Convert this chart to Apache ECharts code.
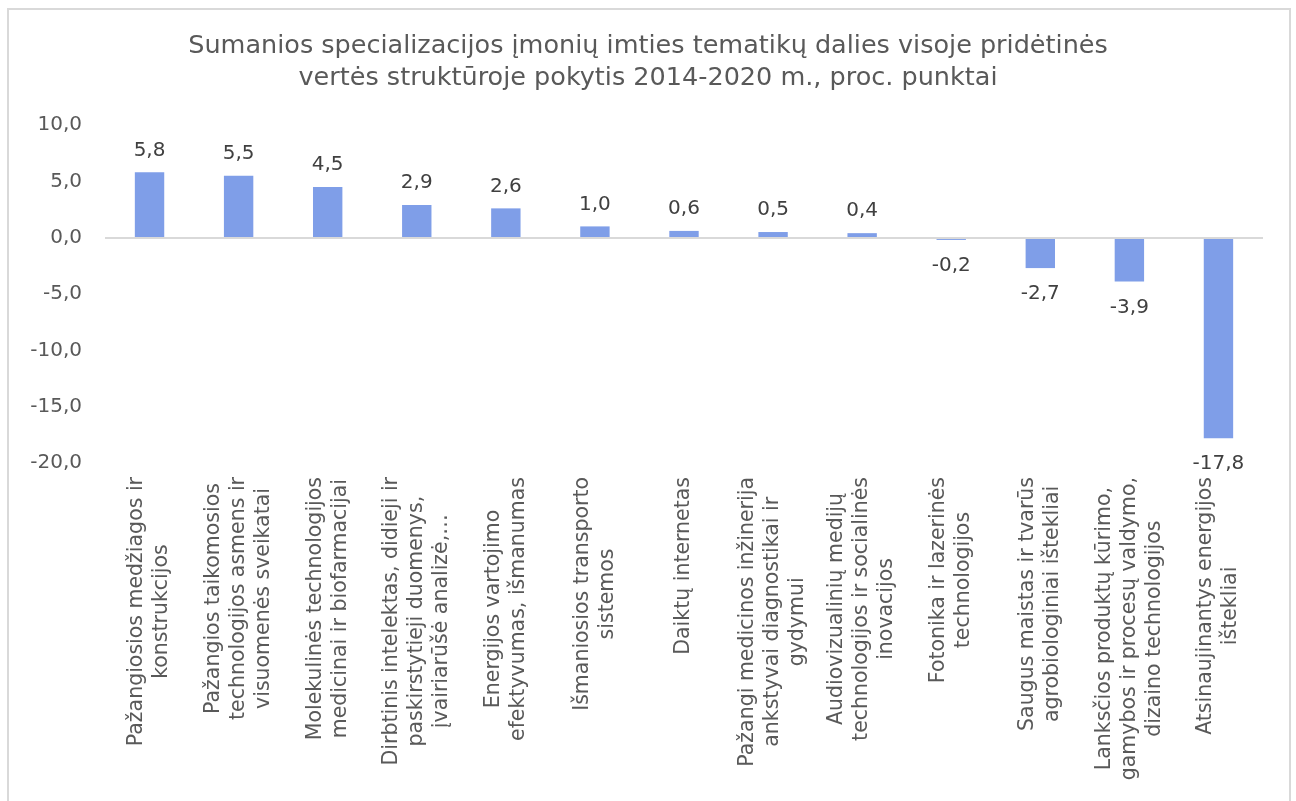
<!DOCTYPE html>
<html>
<head>
<meta charset="utf-8">
<script src="https://cdn.jsdelivr.net/npm/echarts@6/dist/echarts.min.js"></script>
<style>
html,body{margin:0;padding:0;background:#fff;}
#frame{position:absolute;left:7px;top:8px;width:1284px;height:820px;border:2px solid #d9d9d9;box-sizing:border-box;}
#chart{position:absolute;left:0;top:0;width:1296px;height:801px;}
</style>
</head>
<body>
<div id="frame"></div>
<div id="chart"></div>
<script>
const titleText = "Sumanios specializacijos įmonių imties tematikų dalies visoje pridėtinės\nvertės struktūroje pokytis 2014-2020 m., proc. punktai";
const categories = [
  "Pažangiosios medžiagos ir\nkonstrukcijos",
  "Pažangios taikomosios\ntechnologijos asmens ir\nvisuomenės sveikatai",
  "Molekulinės technologijos\nmedicinai ir biofarmacijai",
  "Dirbtinis intelektas, didieji ir\npaskirstytieji duomenys,\nįvairiarūšė analizė,…",
  "Energijos vartojimo\nefektyvumas, išmanumas",
  "Išmaniosios transporto\nsistemos",
  "Daiktų internetas",
  "Pažangi medicinos inžinerija\nankstyvai diagnostikai ir\ngydymui",
  "Audiovizualinių medijų\ntechnologijos ir socialinės\ninovacijos",
  "Fotonika ir lazerinės\ntechnologijos",
  "Saugus maistas ir tvarūs\nagrobiologiniai ištekliai",
  "Lanksčios produktų kūrimo,\ngamybos ir procesų valdymo,\ndizaino technologijos",
  "Atsinaujinantys energijos\ništekliai"
];
const values = [5.8, 5.5, 4.5, 2.9, 2.6, 1.0, 0.6, 0.5, 0.4, -0.2, -2.7, -3.9, -17.8];
const yMin = -20, yMax = 10, yStep = 5;

const fmt = v => Number(v).toFixed(1).replace('.', ',');
const FONT = '"DejaVu Sans", Verdana, sans-serif';

const chart = echarts.init(document.getElementById('chart'), null, {renderer: 'canvas'});
chart.setOption({
  animation: false,
  backgroundColor: 'transparent',
  title: {
    text: titleText,
    left: 'center',
    top: 25,
    textStyle: {fontFamily: FONT, fontSize: 25.5, fontWeight: 'normal', color: '#595959', lineHeight: 32}
  },
  grid: {left: 105, right: 33, top: 125, bottom: 338, containLabel: false},
  xAxis: {
    type: 'category',
    data: categories,
    axisLine: {show: false},
    axisTick: {show: false},
    axisLabel: {
      rotate: 90,
      interval: 0,
      margin: 14,
      color: '#595959',
      fontFamily: FONT,
      fontSize: 20.5,
      lineHeight: 25,
      formatter: v => v.split('\n').map(l => '{c|' + l + '}').join('\n'),
      rich: {c: {align: 'center', fontFamily: FONT, fontSize: 20.5, lineHeight: 25, color: '#595959'}}
    }
  },
  yAxis: {
    type: 'value',
    min: yMin, max: yMax, interval: yStep,
    axisLine: {show: false},
    axisTick: {show: false},
    splitLine: {show: false},
    axisLabel: {margin: 23, color: '#595959', fontFamily: FONT, fontSize: 20, formatter: fmt}
  },
  series: [{
    type: 'bar',
    barWidth: '33%',
    itemStyle: {color: '#7f9ee8'},
    data: values.map(v => ({
      value: v,
      label: {position: v >= 0 ? 'top' : 'bottom', distance: v >= 0 ? 12 : 16}
    })),
    label: {show: true, color: '#404040', fontFamily: FONT, fontSize: 20, formatter: p => fmt(p.value)},
    markLine: {
      silent: true,
      symbol: 'none',
      label: {show: false},
      lineStyle: {color: '#d9d9d9', width: 2, type: 'solid'},
      data: [{yAxis: 0}]
    }
  }]
});
</script>
</body>
</html>
